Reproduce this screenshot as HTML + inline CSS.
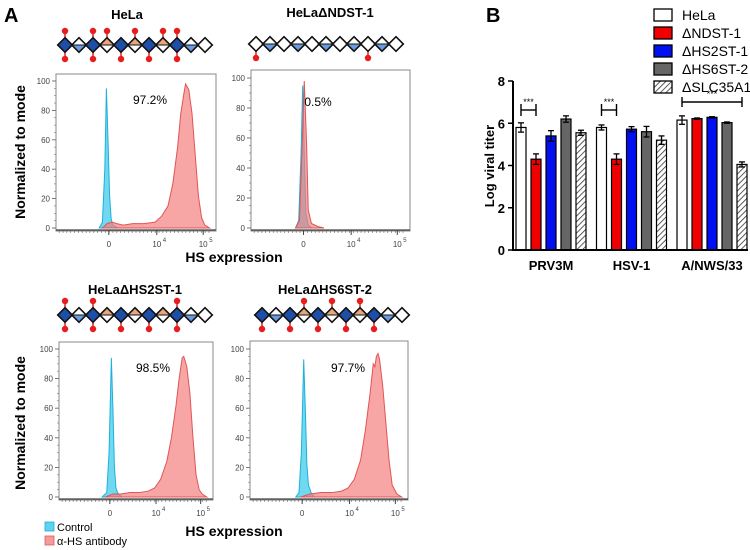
<!DOCTYPE html>
<html><head><meta charset="utf-8"><style>
body{margin:0;background:#fff;width:750px;height:550px;overflow:hidden}
svg{display:block;font-family:"Liberation Sans",Arial,sans-serif}
</style></head><body>
<svg id="fig" width="750" height="550" viewBox="0 0 750 550" xmlns="http://www.w3.org/2000/svg">
<defs>
<pattern id="hatch" width="4" height="4" patternUnits="userSpaceOnUse" patternTransform="rotate(45)">
<rect width="4" height="4" fill="#fff"/><line x1="0" y1="0" x2="0" y2="4" stroke="#333" stroke-width="1.6"/>
</pattern>
</defs>
<text x="4" y="22" font-size="20" font-weight="bold">A</text>
<text x="486" y="22" font-size="20" font-weight="bold">B</text>
<g id="panelA"></g>
<g id="panelB"></g>
</svg>
<script>
// ---------- Panel B data ----------
const categories = ["PRV3M", "HSV-1", "A/NWS/33"];
const seriesNames = ["HeLa", "\u0394NDST-1", "\u0394HS2ST-1", "\u0394HS6ST-2", "\u0394SLC35A1"];
const seriesHeLa = [5.8, 5.8, 6.15];
const seriesNDST = [4.3, 4.3, 6.22];
const seriesHS2ST = [5.4, 5.72, 6.28];
const seriesHS6ST = [6.2, 5.6, 6.03];
const seriesSLC = [5.55, 5.2, 4.05];
const errHeLa = [0.22, 0.12, 0.2];
const errNDST = [0.25, 0.25, 0.03];
const errHS2ST = [0.25, 0.12, 0.03];
const errHS6ST = [0.15, 0.25, 0.03];
const errSLC = [0.12, 0.2, 0.12];
const yTicks = [0, 2, 4, 6, 8];

// ---------- Panel A data (channel 0-100 across plot width, % of mode) ----------
const titles = ["HeLa", "HeLa\u0394NDST-1", "HeLa\u0394HS2ST-1", "HeLa\u0394HS6ST-2"];
const percents = ["97.2%", "0.5%", "98.5%", "97.7%"];
const ctrlX1 = [27,29,30.5,31.5,32.5,33.5,34.5,35.5,37,39];
const ctrlY1 = [0,4,40,95,60,22,6,2,1,0];
const abX1 = [29,32,35,38,42,48,55,62,66,70,73,76,78,80,81,83,85,87,89,91,93,96];
const abY1 = [0,3,4,3,2,3,3,4,8,15,30,55,78,92,98,94,78,50,22,7,2,0];
const ctrlX2 = [28,30,31.5,32.5,33.5,34.5,36,38];
const ctrlY2 = [0,5,50,95,50,10,2,0];
const abX2 = [28,30.5,32,33.5,35,36,38,42,46];
const abY2 = [0,5,50,98,55,12,3,1,0];
const ctrlX3 = [28,31,32.5,34,35,36,37,38.5,41];
const ctrlY3 = [0,3,30,94,60,20,6,2,0];
const abX3 = [30,35,40,46,52,58,62,66,70,73,76,78,80,81,83,85,87,89,91,93,96];
const abY3 = [0,2,2,3,3,4,6,12,24,40,62,80,94,95,88,70,40,15,5,2,0];
const ctrlX4 = [29,31,32.5,34,35,36,37,39,41];
const ctrlY4 = [0,3,30,93,60,22,8,2,0];
const abX4 = [32,38,45,52,58,62,66,70,73,76,78,79,80,81,82,84,86,88,90,93,96];
const abY4 = [0,2,3,3,4,6,12,25,45,70,90,88,95,97,93,75,50,25,8,2,0];
const xTickLabels = ["0", "10", "10"];
const xTickPos = [33, 63, 92];
const xTickExp = ["", "4", "5"];
const hyTicks = [0, 20, 40, 60, 80, 100];
const glyUnits1 = "BHBOBOBOBHW";
const glyTop1 = [0,2,3,5,7,8];
const glyBot1 = [0,2,4,6,8];
const glyUnits2 = "WHWHWHWHWHW";
const glyTop2 = [];
const glyBot2 = [0,8];
const glyUnits3 = "BHBOBOBOBHW";
const glyTop3 = [0,2,8];
const glyBot3 = [0,2,4,6,8];
const glyUnits4 = "BHBOBOBOBHW";
const glyTop4 = [3,5,7];
const glyBot4 = [0,2,4,6,8];

const NS = "http://www.w3.org/2000/svg";
function mk(tag, attrs, parent){const e=document.createElementNS(NS,tag);for(const k in attrs)e.setAttribute(k,attrs[k]);parent.appendChild(e);return e;}

// ---------- Panel A ----------
const A = document.getElementById("panelA");
const panels = [
 {x0:56,x1:216,yTop:74,yBot:231,y100:81,y0:228,title:[127,19],pct:[150,104],gly:[65,45],ctrlX:ctrlX1,ctrlY:ctrlY1,abX:abX1,abY:abY1,units:glyUnits1,top:glyTop1,bot:glyBot1},
 {x0:251,x1:410,yTop:70,yBot:231,y100:78,y0:228,title:[330,17],pct:[318,106],gly:[256,44],ctrlX:ctrlX2,ctrlY:ctrlY2,abX:abX2,abY:abY2,units:glyUnits2,top:glyTop2,bot:glyBot2},
 {x0:59,x1:213,yTop:342,yBot:500,y100:349,y0:497,title:[135,294],pct:[153,372],gly:[65,315],ctrlX:ctrlX3,ctrlY:ctrlY3,abX:abX3,abY:abY3,units:glyUnits3,top:glyTop3,bot:glyBot3},
 {x0:250,x1:408,yTop:341,yBot:500,y100:349,y0:497,title:[325,294],pct:[348,372],gly:[262,315],ctrlX:ctrlX4,ctrlY:ctrlY4,abX:abX4,abY:abY4,units:glyUnits4,top:glyTop4,bot:glyBot4}
];
panels.forEach((p,i)=>{
  const g = mk("g",{},A);
  
  
  const t = mk("text",{x:p.title[0],y:p.title[1],"font-size":13,"font-weight":"bold","text-anchor":"middle"},g);
  t.textContent = titles[i];
  
  
  const gg = mk("g",{},g);
  
  
  const pitch=14, r=7.3, cy=p.gly[1];
  for(let k=0;k<p.units.length;k++){
    const cx=p.gly[0]+k*pitch;
    if(p.top.includes(k)){mk("line",{x1:cx,y1:cy-r,x2:cx,y2:cy-13,stroke:"#e02020","stroke-width":1.5},gg);mk("circle",{cx:cx,cy:cy-14,r:3.2,fill:"#e81c1c"},gg);}
    if(p.bot.includes(k)){mk("line",{x1:cx,y1:cy+r,x2:cx,y2:cy+13,stroke:"#e02020","stroke-width":1.5},gg);mk("circle",{cx:cx,cy:cy+14,r:3.2,fill:"#e81c1c"},gg);}
  }
  for(let k=0;k<p.units.length;k++){
    const cx=p.gly[0]+k*pitch, u=p.units[k];
    const dpts=`${cx},${cy-r} ${cx+r},${cy} ${cx},${cy+r} ${cx-r},${cy}`;
    mk("polygon",{points:dpts,fill:u==="B"?"#1d4fa8":"#fff"},gg);
    if(u==="H") mk("polygon",{points:`${cx-r},${cy} ${cx+r},${cy} ${cx},${cy+r}`,fill:"#6a9be0"},gg);
    if(u==="O") mk("polygon",{points:`${cx-r},${cy} ${cx+r},${cy} ${cx},${cy-r}`,fill:"#e8a77a"},gg);
    mk("polygon",{points:dpts,fill:"none",stroke:"#111","stroke-width":1.6},gg);
    if(u==="H"||u==="O") mk("line",{x1:cx-r,y1:cy,x2:cx+r,y2:cy,stroke:"#111","stroke-width":1},gg);
  }
  const sx=v=>p.x0+(p.x1-p.x0)*v/100;
  const sy=v=>p.y0-(p.y0-p.y100)*v/100;
  const box = mk("rect",{x:p.x0,y:p.yTop,width:p.x1-p.x0,height:p.yBot-p.yTop,fill:"none",stroke:"#888","stroke-width":1},g);
  
  
  function area(xs,ys,fill,stroke,name){
    let d=`M${sx(xs[0])},${sy(0)}`;
    xs.forEach((x,j)=>{d+=` L${sx(x)},${sy(ys[j])}`;});
    d+=` L${sx(xs[xs.length-1])},${sy(0)} Z`;
    const pth=mk("path",{d:d,fill:fill,"fill-opacity":0.7,stroke:stroke,"stroke-width":1},g);
    
    
  }
  area(p.ctrlX,p.ctrlY,"#33c7ea","#1fb0da","control-histogram");
  area(p.abX,p.abY,"#f47f7f","#e05555","antibody-histogram");
  hyTicks.forEach(v=>{
    mk("line",{x1:p.x0-4,y1:sy(v),x2:p.x0,y2:sy(v),stroke:"#555","stroke-width":0.8},g);
    const tt=mk("text",{x:p.x0-6,y:sy(v)+3,"font-size":8,fill:"#444","text-anchor":"end"},g);
    tt.textContent=v;
    
    
  });
  for(let v=0;v<=100;v+=5) mk("line",{x1:p.x0-2,y1:sy(v),x2:p.x0,y2:sy(v),stroke:"#777","stroke-width":0.6},g);
  mk("line",{x1:p.x0,y1:p.yBot-1,x2:p.x1,y2:p.yBot-1,stroke:"#444","stroke-width":1.2},g);
  for(let v=2;v<98;v+=2.4) mk("line",{x1:sx(v),y1:p.yBot-1,x2:sx(v),y2:p.yBot+2,stroke:"#666","stroke-width":0.6},g);
  xTickPos.forEach((v,j)=>{
    mk("line",{x1:sx(v),y1:p.yBot-1,x2:sx(v),y2:p.yBot+4,stroke:"#444","stroke-width":1},g);
    const tt=mk("text",{x:sx(v),y:p.yBot+16,"font-size":8,fill:"#444","text-anchor":"middle"},g);
    tt.textContent=xTickLabels[j];
    
    
    if(xTickExp[j]){const e=mk("text",{x:sx(v)+6,y:p.yBot+11,"font-size":6,fill:"#444"},g);e.textContent=xTickExp[j];
      
      }
  });
  const pc=mk("text",{x:p.pct[0],y:p.pct[1],"font-size":12,"text-anchor":"middle"},g);
  pc.textContent=percents[i];
  
  
});
[[25,152],[25,423]].forEach(([x,y])=>{
  const t=mk("text",{x:x,y:y,"font-size":14,"font-weight":"bold","text-anchor":"middle",transform:`rotate(-90 ${x} ${y})`},A);
  t.textContent="Normalized to mode";
  
  
});
[[234,262],[234,536]].forEach(([x,y])=>{
  const t=mk("text",{x:x,y:y,"font-size":14,"font-weight":"bold","text-anchor":"middle"},A);
  t.textContent="HS expression";
  
  
});
[["Control","#5dd3f0",527],["\u03b1-HS antibody","#f79a9a",541]].forEach(([lab,c,y])=>{
  const r=mk("rect",{x:45,y:y-5,width:9,height:9,fill:c,stroke:c==="#5dd3f0"?"#2aa8d0":"#d86060","stroke-width":0.8},A);
  
  
  const t=mk("text",{x:57,y:y+4,"font-size":11},A);
  t.textContent=lab;
  
  
});

// ---------- Panel B ----------
const B = document.getElementById("panelB");
const allSeries=[seriesHeLa,seriesNDST,seriesHS2ST,seriesHS6ST,seriesSLC];
const allErr=[errHeLa,errNDST,errHS2ST,errHS6ST,errSLC];
const fills=["#fff","#f00000","#0010f0","#666","url(#hatch)"];
const bx0=513, by0=250, by8=81, groupStart=516, groupPitch=80.5, barPitch=15, barW=10;
const yScale=v=>by0-(by0-by8)*v/8;
const xBar=(c,s)=>groupStart+c*groupPitch+s*barPitch;
yTicks.forEach(v=>{
  mk("line",{x1:bx0-5,y1:yScale(v),x2:bx0,y2:yScale(v),stroke:"#000","stroke-width":1.5},B);
  const t=mk("text",{x:bx0-8,y:yScale(v)+5,"font-size":13,"font-weight":"bold","text-anchor":"end"},B);
  t.textContent=v;
  
  
});
categories.forEach((c,ci)=>{
  allSeries.forEach((s,si)=>{
    const x=xBar(ci,si), v=s[ci], e=allErr[si][ci];
    const r=mk("rect",{x:x,y:yScale(v),width:barW,height:by0-yScale(v),fill:fills[si],stroke:"#000","stroke-width":1.2},B);
    
    
    const cx=x+barW/2;
    mk("line",{x1:cx,y1:yScale(v+e),x2:cx,y2:yScale(v-e),stroke:"#000","stroke-width":1.3},B);
    mk("line",{x1:cx-3,y1:yScale(v+e),x2:cx+3,y2:yScale(v+e),stroke:"#000","stroke-width":1.3},B);
    mk("line",{x1:cx-3,y1:yScale(v-e),x2:cx+3,y2:yScale(v-e),stroke:"#000","stroke-width":1.3},B);
  });
  const t=mk("text",{x:xBar(ci,2)+barW/2,y:270,"font-size":13,"font-weight":"bold","text-anchor":"middle"},B);
  t.textContent=c;
  
  
});
const yAx=mk("line",{x1:bx0,y1:by8,x2:bx0,y2:by0+1,stroke:"#000","stroke-width":2},B);


const xAx=mk("line",{x1:bx0,y1:by0,x2:748,y2:by0,stroke:"#000","stroke-width":2},B);


const yt=mk("text",{x:494,y:166,"font-size":13,"font-weight":"bold","text-anchor":"middle",transform:"rotate(-90 494 166)"},B);
yt.textContent="Log viral titer";


[[xBar(0,0)+5,xBar(0,1)+5,110,6],[xBar(1,0)+5,xBar(1,1)+5,110,6],[xBar(2,0)+5,xBar(2,4)+5,102,5]].forEach(([a,b,y,h])=>{
  mk("line",{x1:a,y1:y,x2:b,y2:y,stroke:"#000","stroke-width":1.4},B);
  mk("line",{x1:a,y1:y-h,x2:a,y2:y+h,stroke:"#000","stroke-width":1.4},B);
  mk("line",{x1:b,y1:y-h,x2:b,y2:y+h,stroke:"#000","stroke-width":1.4},B);
  const t=mk("text",{x:(a+b)/2,y:y-5,"font-size":9,"text-anchor":"middle"},B);
  t.textContent="***";
  
  
});
seriesNames.forEach((n,i)=>{
  const y=9+i*18;
  const r=mk("rect",{x:654,y:y,width:18,height:12,fill:fills[i],stroke:"#000","stroke-width":1.3},B);
  
  
  const t=mk("text",{x:682,y:y+11,"font-size":14},B);
  t.textContent=n;
  
  
});
</script>
</body></html>
